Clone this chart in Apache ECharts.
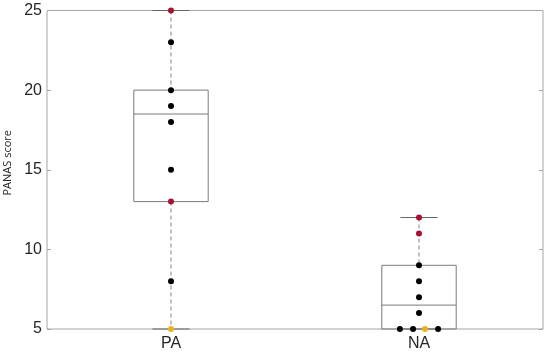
<!DOCTYPE html>
<html><head><meta charset="utf-8">
<script src="https://cdn.jsdelivr.net/npm/echarts@6/dist/echarts.min.js"></script>
<style>html,body{margin:0;padding:0;background:#fff}#c{width:550px;height:354px}</style>
</head><body><div id="c"></div>
<script>
// ---- data ----
const categories = ['PA', 'NA'];
const yTicks = [5, 10, 15, 20, 25];
// box statistics: [min, q1, median, q3, max]
const paStats = [5, 13, 18.5, 20, 25];
const naStats = [5, 5, 6.5, 9, 12];
// individual points: [category index, offset, value]
const redPoints = [[0, 0, 25], [0, 0, 13], [1, 0, 12], [1, 0, 11]];
const blackPoints = [[0, 0, 23], [0, 0, 20], [0, 0, 19], [0, 0, 18], [0, 0, 15], [0, 0, 8],
  [1, 0, 9], [1, 0, 8], [1, 0, 7], [1, 0, 6], [1, -0.077, 5], [1, -0.024, 5], [1, 0.077, 5]];
const yellowPoints = [[0, 0, 5], [1, 0.024, 5]];

const boxData = [[0].concat(paStats), [1].concat(naStats)];
const toXY = arr => arr.map(p => [p[0] + 1 + p[1], p[2]]);

function renderBox(params, api) {
  const idx = api.value(0);
  const vals = [1, 2, 3, 4, 5].map(i => api.value(i));
  const band = api.size([1, 0])[0];
  const cx = api.coord([idx, vals[2]])[0];
  const y = vals.map(v => api.coord([idx, v])[1]);
  const bw = band * 0.3 / 2, cw = band * 0.15 / 2;
  const boxStyle = {stroke: '#7a7a7a', lineWidth: 1, fill: null};
  return {type: 'group', children: [
    {type: 'line', shape: {x1: cx, y1: y[4], x2: cx, y2: y[3]}, style: {stroke: '#a0a0a0', lineWidth: 1.3, lineDash: [4, 3]}},
    {type: 'line', shape: {x1: cx, y1: y[1], x2: cx, y2: y[0]}, style: {stroke: '#a0a0a0', lineWidth: 1.3, lineDash: [4, 3]}},
    {type: 'line', shape: {x1: cx - cw, y1: y[4], x2: cx + cw, y2: y[4]}, style: {stroke: '#666', lineWidth: 1}},
    {type: 'line', shape: {x1: cx - cw, y1: y[0], x2: cx + cw, y2: y[0]}, style: {stroke: '#666', lineWidth: 1}},
    {type: 'rect', shape: {x: cx - bw, y: y[3], width: 2 * bw, height: y[1] - y[3]}, style: boxStyle},
    {type: 'line', shape: {x1: cx - bw, y1: y[2], x2: cx + bw, y2: y[2]}, style: {stroke: '#7a7a7a', lineWidth: 1}}
  ]};
}

const chart = echarts.init(document.getElementById('c'), null, {renderer: 'canvas'});
const dot = {symbolSize: 6, z: 5, xAxisIndex: 1, yAxisIndex: 0, type: 'scatter'};
chart.setOption({
  animation: false,
  grid: {left: 47, right: 7, top: 10.5, bottom: 25, show: true, borderColor: '#a6a6a6', borderWidth: 1,
         containLabel: false, outerBoundsMode: 'none'},
  xAxis: [
    {type: 'category', data: categories, boundaryGap: true,
     axisLine: {show: false}, axisTick: {show: false},
     axisLabel: {color: '#262626', fontSize: 16, fontFamily: 'Liberation Sans', margin: 7}},
    {type: 'value', min: 0.5, max: 2.5, show: false}
  ],
  yAxis: [
    {type: 'value', min: 5, max: 25, interval: 5, name: 'PANAS score', nameLocation: 'middle', nameGap: 26,
     nameTextStyle: {color: '#262626', fontSize: 11, fontFamily: 'Open Sans', padding: [0, 0, 0, 14]},
     axisLine: {show: false}, splitLine: {show: false},
     axisTick: {show: true, inside: true, length: 4, lineStyle: {color: '#a6a6a6'}},
     axisLabel: {color: '#262626', fontSize: 16, fontFamily: 'Liberation Sans', margin: 5,
       formatter: v => yTicks.includes(v) ? String(v) : ''}},
    {type: 'value', min: 5, max: 25, interval: 5, position: 'right',
     axisLine: {show: false}, splitLine: {show: false}, axisLabel: {show: false},
     axisTick: {show: true, inside: true, length: 4, lineStyle: {color: '#a6a6a6'}}}
  ],
  series: [
    {type: 'custom', xAxisIndex: 0, yAxisIndex: 0, renderItem: renderBox, data: boxData, z: 2,
     encode: {x: 0, y: [1, 2, 3, 4, 5]}},
    Object.assign({data: toXY(blackPoints), itemStyle: {color: '#000', opacity: 1}}, dot),
    Object.assign({data: toXY(redPoints), itemStyle: {color: '#A2142F', opacity: 1}}, dot),
    Object.assign({data: toXY(yellowPoints), itemStyle: {color: '#EDB120', opacity: 1}}, dot)
  ]
});
</script></body></html>
